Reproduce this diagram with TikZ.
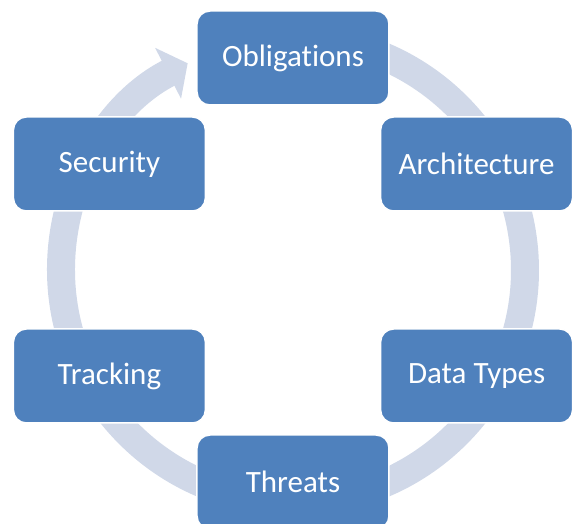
\documentclass[tikz,border=0pt]{standalone}
\usepackage{fontspec}
\setmainfont{Carlito}[Ligatures=NoCommon]
\usetikzlibrary{arrows.meta}
\definecolor{boxblue}{HTML}{4F81BD}
\definecolor{ringgray}{HTML}{D0D8E8}
\tikzset{
  stage/.style={rectangle, rounded corners=13pt, fill=boxblue, draw=white,
    line width=1.5pt, minimum width=192pt, minimum height=94pt, inner sep=0pt,
    text=white, font=\fontsize{31}{37}\selectfont},
  ring/.style={draw=ringgray, line width=28pt,
    -{Triangle[length=22pt,width=56pt]}}
}
\begin{document}
\begin{tikzpicture}[x=1pt,y=1pt]
      \useasboundingbox (-293,-254) rectangle (281,270);
      \clip (-293,-254) rectangle (281,270);
      \coordinate (hub) at (0,0);
      \draw[ring] ([shift={(95:232)}]hub) arc[start angle=95, end angle=-243, radius=232];
      \draw
        (90:212) node[stage] (obl){Obligations}
        (30:212) node[stage] (arch){Architecture}
        (-30:212) node[stage] (data){Data Types}
        (-90:212) node[stage] (thr){Threats}
        (-150:212) node[stage] (trk){Tracking}
        (150:212) node[stage] (sec){Security};
    \end{tikzpicture}
\end{document}
